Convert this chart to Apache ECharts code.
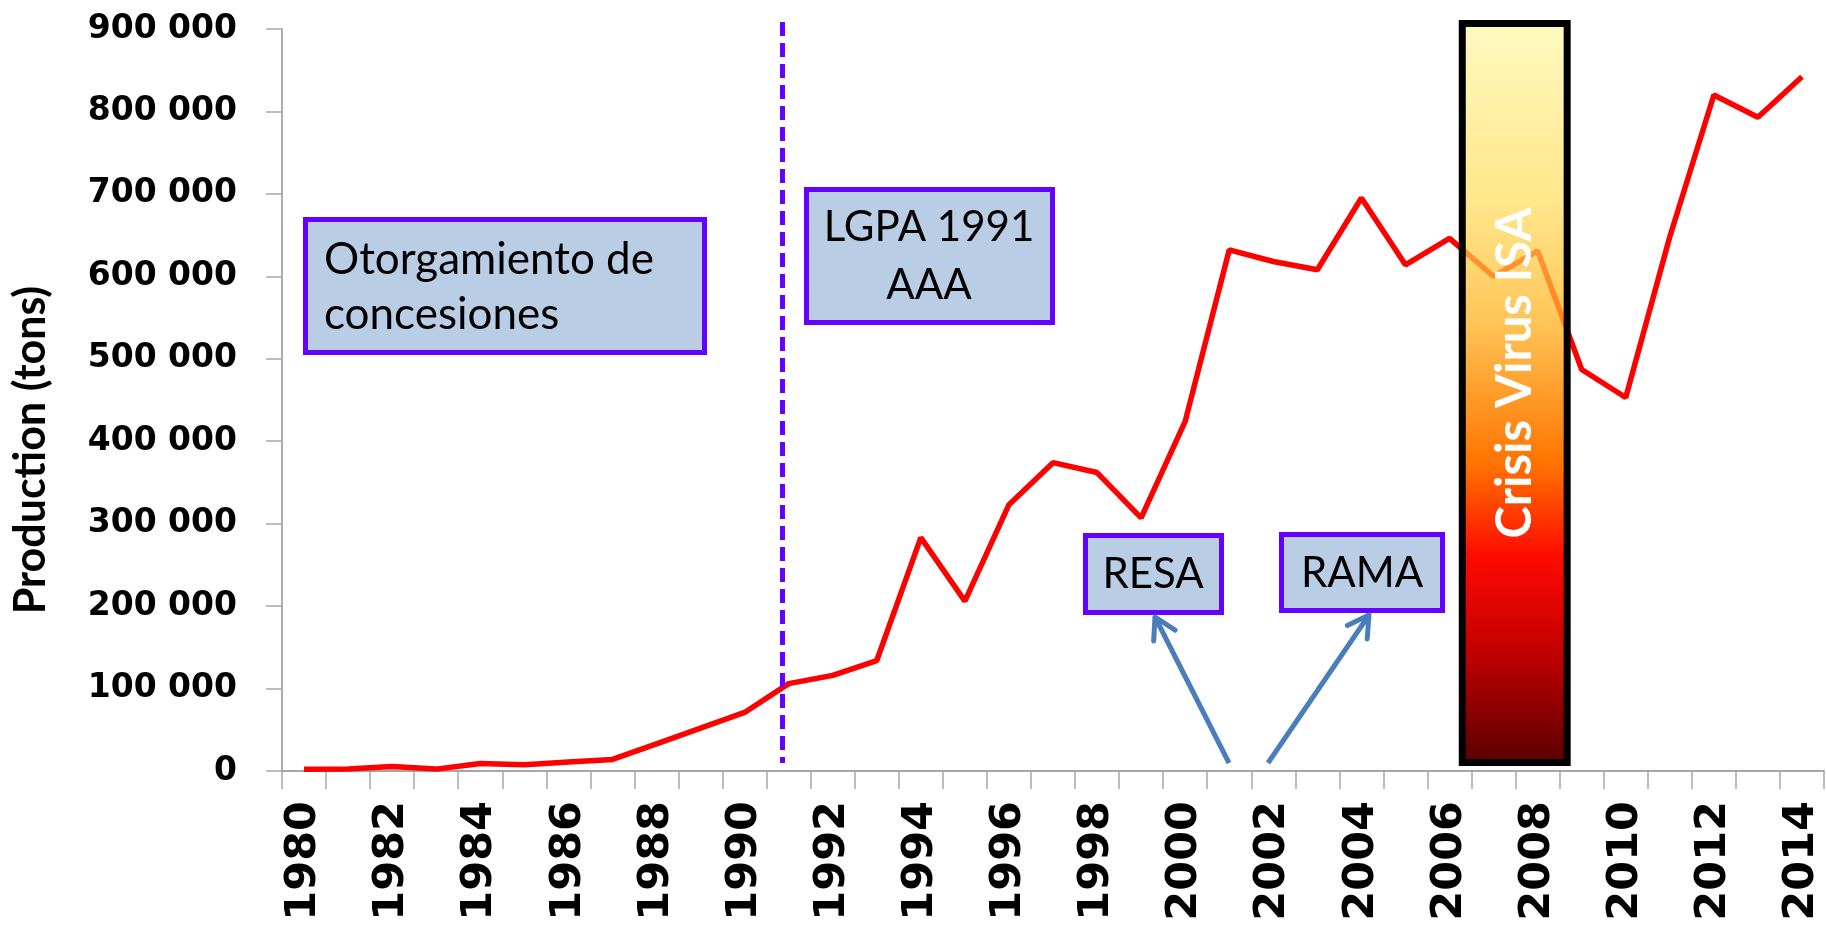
<!DOCTYPE html>
<html><head><meta charset="utf-8">
<script src="https://cdn.jsdelivr.net/npm/echarts@6/dist/echarts.min.js"></script>
<style>html,body{margin:0;padding:0;background:#fff}#c{width:1826px;height:930px}</style>
</head><body><div id="c"></div>
<script>
const years = ['1980','1981','1982','1983','1984','1985','1986','1987','1988','1989','1990','1991','1992','1993','1994','1995','1996','1997','1998','1999','2000','2001','2002','2003','2004','2005','2006','2007','2008','2009','2010','2011','2012','2013','2014'];
const production = [2000,2300,5500,2300,9000,7500,11000,14000,33000,52000,71000,106000,116000,134000,283000,206000,323000,374000,362000,307000,424000,632000,618000,608000,695000,614000,646000,600000,631000,487000,453000,648000,820000,793000,842000];
const yTickValues = [0,100000,200000,300000,400000,500000,600000,700000,800000,900000];
const yTickLabels = ['0','100 000','200 000','300 000','400 000','500 000','600 000','700 000','800 000','900 000'];
const yAxisTitle = 'Production (tons)';
const annotationTexts = {
  concesiones: 'Otorgamiento de\nconcesiones',
  lgpa: 'LGPA 1991\nAAA',
  resa: 'RESA',
  rama: 'RAMA',
  crisis: 'Crisis Virus ISA'
};

const axisGray = '#a6a6a6';
const chart = echarts.init(document.getElementById('c'), null, {renderer: 'canvas'});
chart.setOption({
  animation: false,
  grid: {left: 282, right: 2, top: 29, bottom: 159, containLabel: false, outerBoundsMode: 'none'},
  xAxis: {
    type: 'category', data: years, boundaryGap: true,
    axisLine: {lineStyle: {color: axisGray, width: 1.8}},
    axisTick: {show: true, interval: 0, length: 18, lineStyle: {color: axisGray, width: 1.5}},
    axisLabel: {interval: 1, rotate: 90, margin: 30, fontSize: 43, fontWeight: 'bold', fontFamily: 'DejaVu Sans', color: '#000', hideOverlap: false},
    splitLine: {show: false}
  },
  yAxis: {
    type: 'value', min: 0, max: 900000, interval: 100000,
    axisLine: {show: true, lineStyle: {color: axisGray, width: 1.8}},
    axisTick: {show: true, length: 16, lineStyle: {color: axisGray, width: 1.5}},
    axisLabel: {margin: 45, fontSize: 33, fontWeight: 'bold', fontFamily: 'DejaVu Sans', color: '#000',
      formatter: v => { const i = yTickValues.indexOf(v); return i >= 0 ? yTickLabels[i] : ''; }},
    splitLine: {show: false}
  },
  series: [{type: 'line', data: production, symbol: 'none', lineStyle: {color: '#ff0000', width: 5.5}, z: 2}]
});

function xAt(idx) {
  const i = Math.floor(idx), f = idx - i;
  const a = chart.convertToPixel({xAxisIndex: 0}, years[i]);
  const b = chart.convertToPixel({xAxisIndex: 0}, years[Math.min(i + 1, years.length - 1)]);
  return a + (b - a) * f;
}
function box(x, y, w, h) {
  return {type: 'rect', shape: {x: x + 2.5, y: y + 2.5, width: w - 5, height: h - 5},
    style: {fill: '#B9CDE5', stroke: '#6600FF', lineWidth: 5}, z: 20};
}
function label(x, y, text, align, lh, fs) {
  return {type: 'text', x: x, y: y, z: 21,
    style: {text: text, fontSize: fs || 42, fontFamily: 'Lato', fill: '#000', align: align, verticalAlign: 'middle', lineHeight: lh || 50}};
}
function arrow(x1, y1, x2, y2) {
  const a = Math.atan2(y2 - y1, x2 - x1), L = 24, sp = Math.PI / 6;
  const col = '#4A7EBB';
  return [
    {type: 'line', shape: {x1: x1, y1: y1, x2: x2, y2: y2}, style: {stroke: col, lineWidth: 5}, z: 20},
    {type: 'polyline', shape: {points: [[x2 - L * Math.cos(a - sp), y2 - L * Math.sin(a - sp)], [x2, y2], [x2 - L * Math.cos(a + sp), y2 - L * Math.sin(a + sp)]]},
      style: {stroke: col, lineWidth: 5, fill: null, lineJoin: 'round', lineCap: 'round'}, z: 20}
  ];
}

const xDash = xAt(years.indexOf('1990') + 0.86);
const barL = xAt(years.indexOf('2006') + 0.21);
const barR = xAt(years.indexOf('2008') + 0.75);
const barTop = 20, barBot = 766;

const grad = new echarts.graphic.LinearGradient(0, 0, 0, 1, [
  {offset: 0, color: 'rgba(255,249,170,0.72)'},
  {offset: 0.25, color: 'rgba(255,220,92,0.72)'},
  {offset: 0.4, color: 'rgba(255,179,34,0.75)'},
  {offset: 0.5, color: 'rgba(255,143,12,0.88)'},
  {offset: 0.6, color: 'rgba(255,112,0,1)'},
  {offset: 0.72, color: '#ff0a00'},
  {offset: 0.85, color: '#c00000'},
  {offset: 1, color: '#580000'}
]);

const graphics = [
  {type: 'text', x: 31, y: 450, rotation: Math.PI / 2, z: 10,
    style: {text: yAxisTitle, fontSize: 43, fontWeight: 'bold', fontFamily: 'Lato', fill: '#000', align: 'center', verticalAlign: 'middle'}},
  {type: 'line', shape: {x1: xDash, y1: 22, x2: xDash, y2: 763}, style: {stroke: '#6600FF', lineWidth: 5, lineDash: [14, 7]}, z: 15},
  box(303, 217, 404, 138),
  label(324, 287, annotationTexts.concesiones, 'left', 55, 44),
  box(804, 187, 251, 138),
  label(929, 256, annotationTexts.lgpa, 'center', 58),
  box(1083, 533, 141, 82),
  label(1153, 574, annotationTexts.resa, 'center'),
  box(1279, 532, 166, 81),
  label(1362, 573, annotationTexts.rama, 'center'),
  ...arrow(1229, 763, 1155, 617),
  ...arrow(1268, 763, 1369, 615),
  {type: 'rect', shape: {x: barL + 3.5, y: barTop + 3.5, width: barR - barL - 7, height: barBot - barTop - 7},
    style: {fill: grad, stroke: '#000', lineWidth: 7}, z: 30},
  {type: 'text', x: (barL + barR) / 2, y: 373, rotation: Math.PI / 2, z: 31,
    style: {text: annotationTexts.crisis, fontSize: 49, fontWeight: 'bold', fontFamily: 'Lato', fill: '#fff', align: 'center', verticalAlign: 'middle'}}
];
chart.setOption({graphic: graphics});
</script>
</body></html>
